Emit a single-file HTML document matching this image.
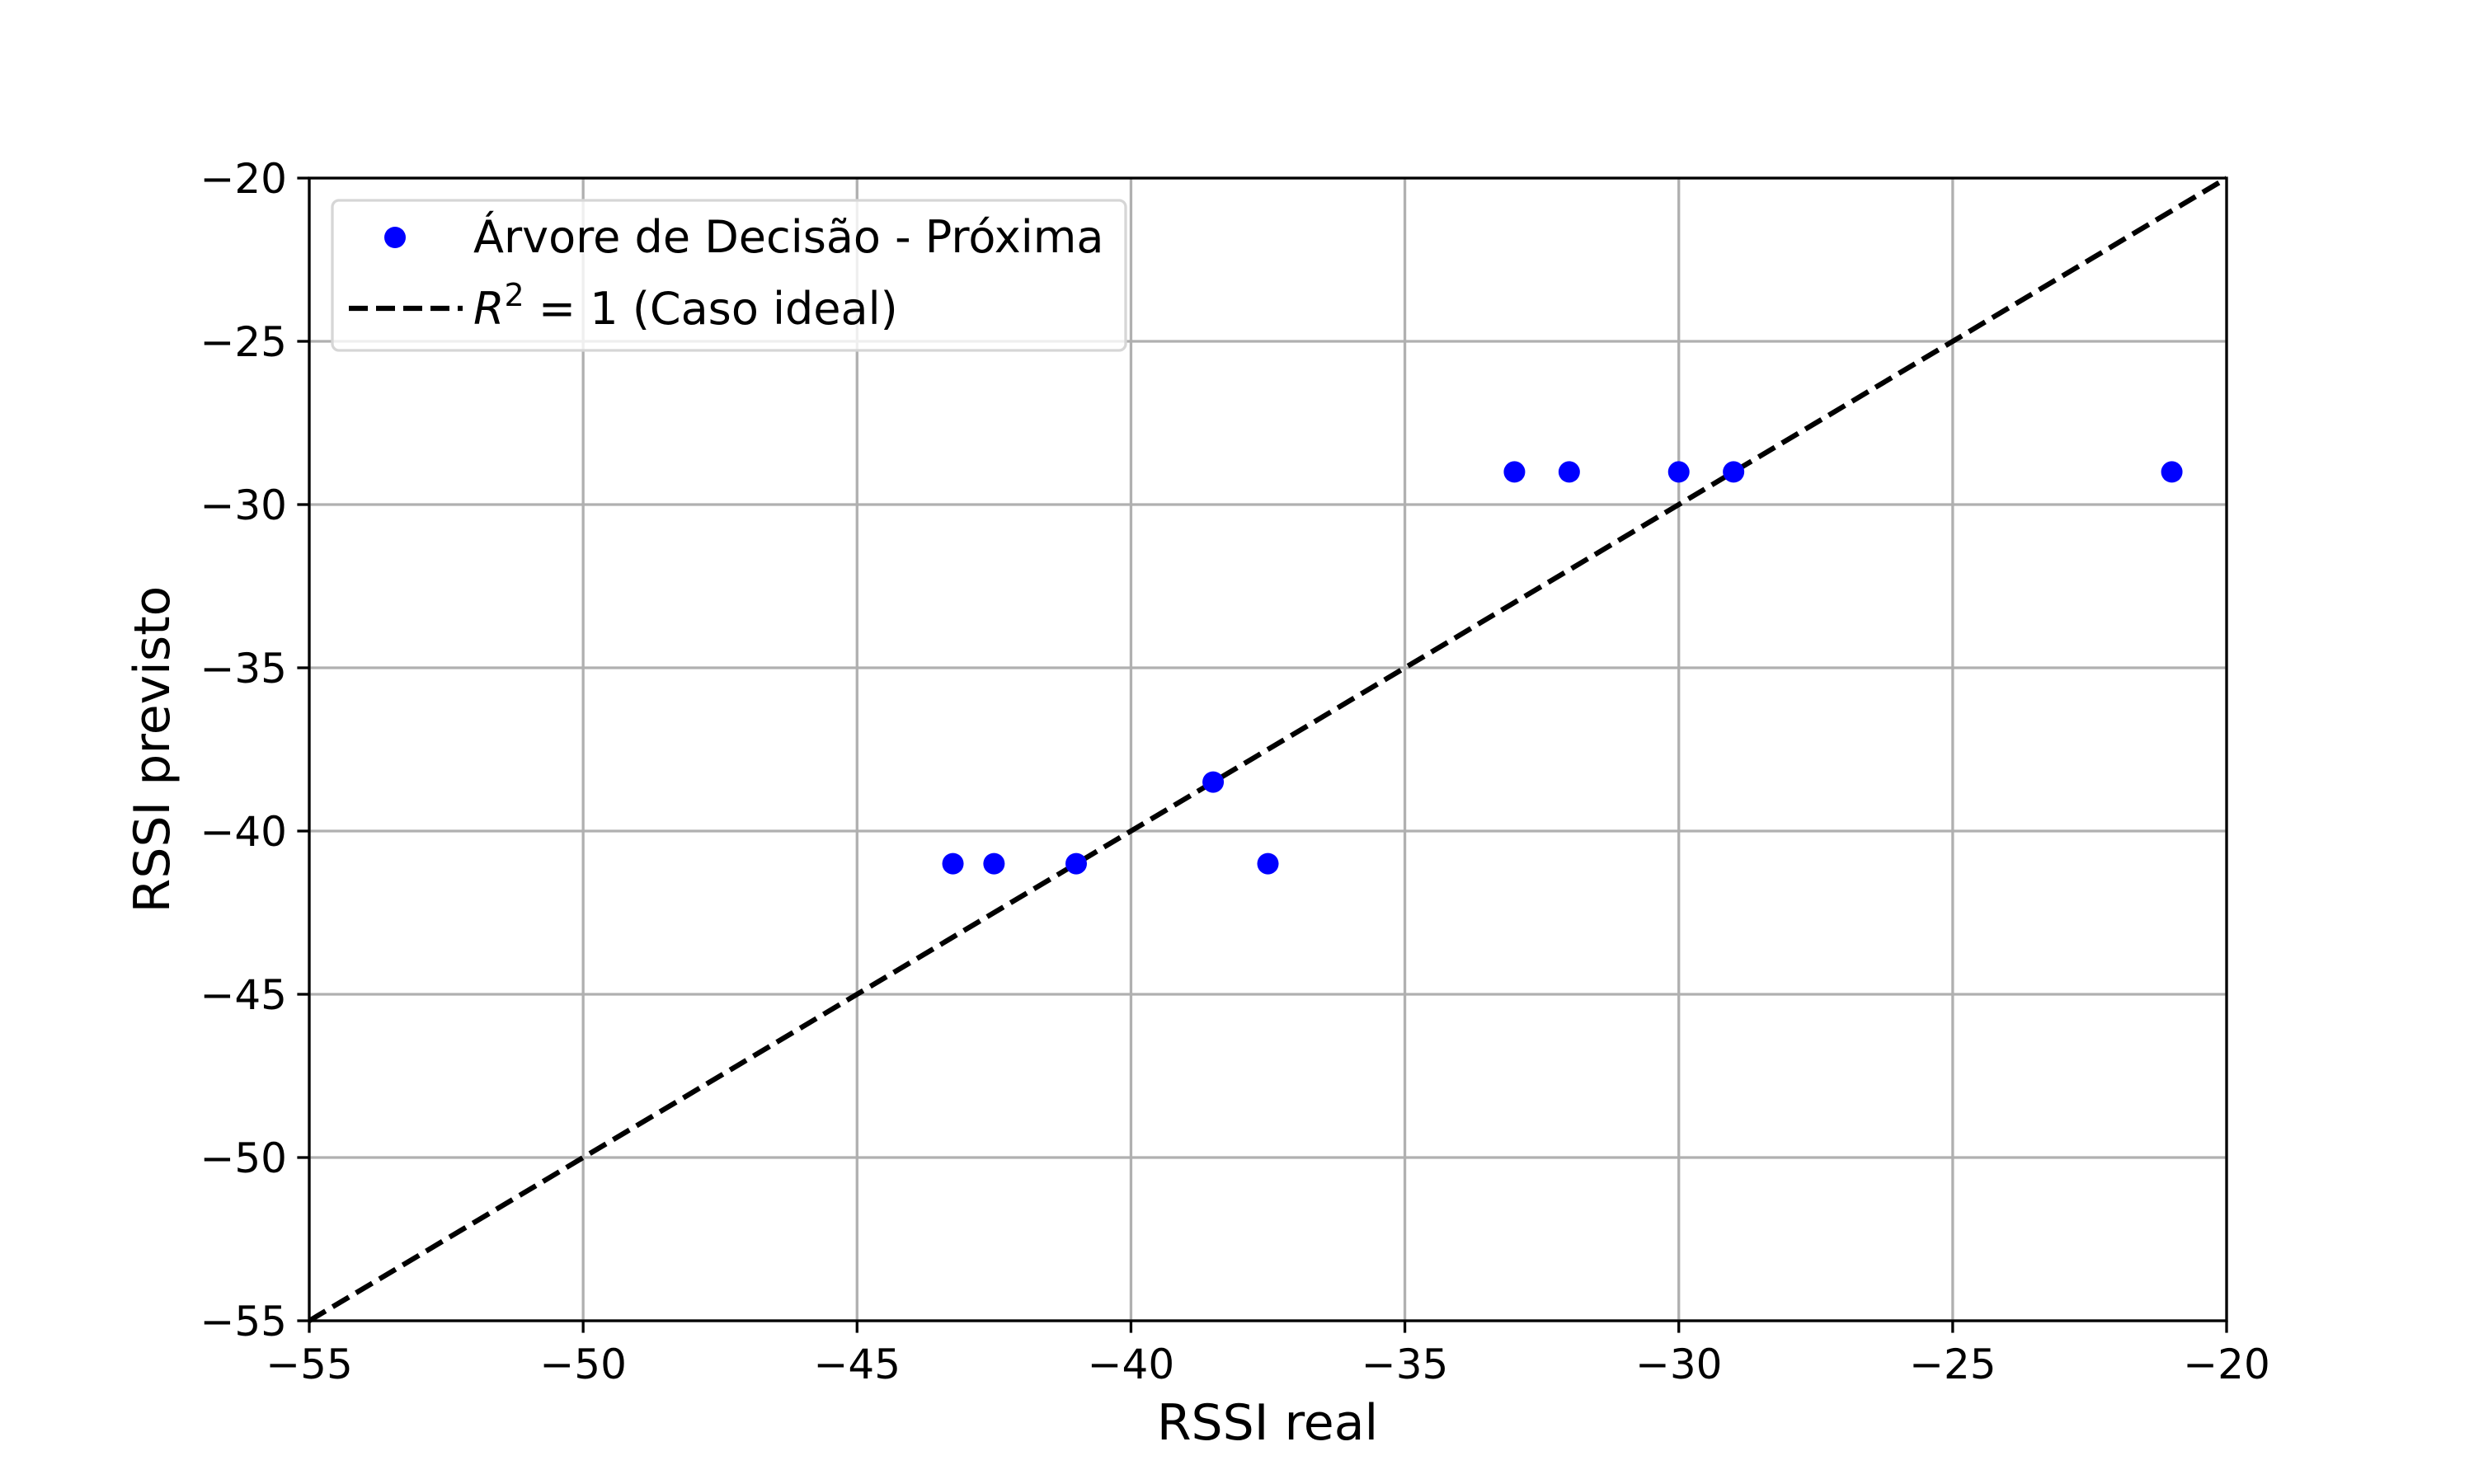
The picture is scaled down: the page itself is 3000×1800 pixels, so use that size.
<!DOCTYPE html>
<html><head><meta charset="utf-8"><style>
html,body{margin:0;padding:0;background:#fff}
svg{display:block}
text{font-family:"DejaVu Sans","Liberation Sans",sans-serif}
</style></head><body>
<svg id="chart" width="3000" height="1800" viewBox="0 0 3000 1800" xmlns="http://www.w3.org/2000/svg">
<rect width="3000" height="1800" fill="#fff"/>
<g id="grid"></g>
<g id="ideal"></g>
<g id="points"></g>
<rect x="375" y="216" width="2325" height="1386" fill="none" stroke="#000" stroke-width="3.3"/>
<g id="ticks"></g>
<text x="1537" y="1746" font-size="60" text-anchor="middle">RSSI real</text>
<text x="205" y="909" font-size="60" text-anchor="middle" transform="rotate(-90 205 909)">RSSI previsto</text>
<g>
<rect x="403" y="243" width="962" height="182" rx="8" fill="#fff" fill-opacity="0.8" stroke="#d6d6d6" stroke-width="3.3"/>
<circle cx="479" cy="288" r="13" fill="#0000ff"/>
<text x="574" y="306" font-size="54">Árvore de Decisão - Próxima</text>
<line x1="423" y1="374" x2="561" y2="374" stroke="#000" stroke-width="6.25" stroke-dasharray="23,10"/>
<text x="574" y="393" font-size="54"><tspan font-style="italic">R</tspan><tspan font-size="38" dy="-22">2</tspan><tspan dy="22"> = 1 (Caso ideal)</tspan></text>
</g>
</svg>
<script>
const xTicks = [-55,-50,-45,-40,-35,-30,-25,-20];
const yTicks = [-55,-50,-45,-40,-35,-30,-25,-20];
const realValues = [-43.25,-42.5,-41,-38.5,-37.5,-33,-32,-30,-29,-21];
const predValues = [-41,-41,-41,-38.5,-41,-29,-29,-29,-29,-29];
const domain = [-55,-20];

const NS = "http://www.w3.org/2000/svg";
const L=375,R=2700,T=216,B=1602;
function sx(v){return L+(v-domain[0])/(domain[1]-domain[0])*(R-L);}
function sy(v){return B-(v-domain[0])/(domain[1]-domain[0])*(B-T);}
function mk(tag,attrs,parent){const e=document.createElementNS(NS,tag);for(const k in attrs)e.setAttribute(k,attrs[k]);parent.appendChild(e);return e;}
const grid=document.getElementById('grid'),ticks=document.getElementById('ticks');
xTicks.forEach(v=>{
  const g=mk('line',{x1:sx(v),x2:sx(v),y1:T,y2:B,stroke:'#b0b0b0','stroke-width':3.3},grid);
  
  
  const t=mk('line',{x1:sx(v),x2:sx(v),y1:B,y2:B+14.6,stroke:'#000','stroke-width':3.3},ticks);
  
  
  const l=mk('text',{x:sx(v),y:B+70,'font-size':50,'text-anchor':'middle'},ticks);
  l.textContent='\u2212'+Math.abs(v);
  
  
});
yTicks.forEach(v=>{
  const g=mk('line',{x1:L,x2:R,y1:sy(v),y2:sy(v),stroke:'#b0b0b0','stroke-width':3.3},grid);
  
  
  const t=mk('line',{x1:L-14.6,x2:L,y1:sy(v),y2:sy(v),stroke:'#000','stroke-width':3.3},ticks);
  
  
  const l=mk('text',{x:L-27,y:sy(v)+18,'font-size':50,'text-anchor':'end'},ticks);
  l.textContent='\u2212'+Math.abs(v);
  
  
});
const pts=document.getElementById('points');
realValues.forEach((x,i)=>{
  const c=mk('circle',{cx:sx(x),cy:sy(predValues[i]),r:13,fill:'#0000ff'},pts);
  
  
});
const ln=mk('line',{x1:sx(domain[0]),y1:sy(domain[0]),x2:sx(domain[1]),y2:sy(domain[1]),stroke:'#000','stroke-width':6.25,'stroke-dasharray':'23,10'},document.getElementById('ideal'));


</script>
</body></html>
